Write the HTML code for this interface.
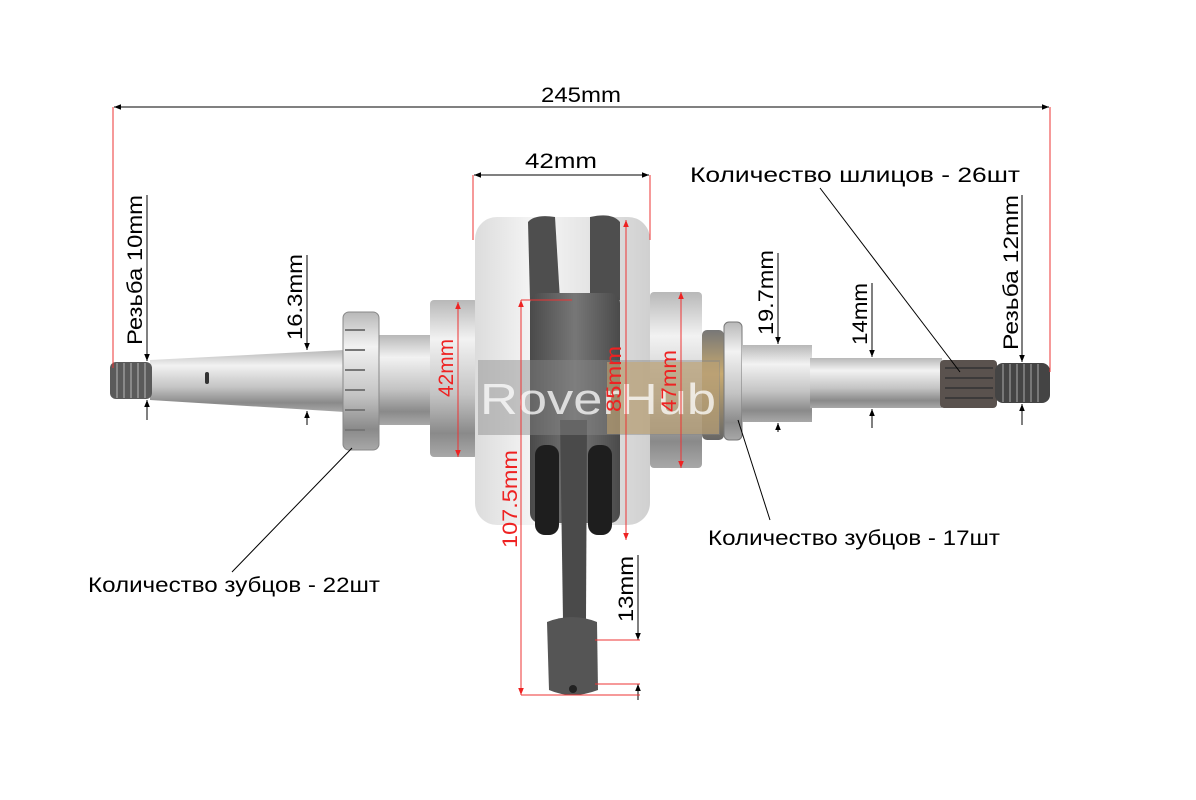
<!DOCTYPE html>
<html><head><meta charset="utf-8"><style>
html,body{margin:0;padding:0;background:#fff;}
svg{display:block;font-family:"Liberation Sans",sans-serif;}
</style></head><body>
<svg width="1196" height="800" viewBox="0 0 1196 800" xmlns="http://www.w3.org/2000/svg">
<defs>
<linearGradient id="steel" x1="0" y1="0" x2="0" y2="1">
<stop offset="0" stop-color="#b8b8b8"/><stop offset="0.25" stop-color="#f2f2f2"/><stop offset="0.6" stop-color="#c4c4c4"/><stop offset="0.85" stop-color="#8a8a8a"/><stop offset="1" stop-color="#a8a8a8"/></linearGradient>
<linearGradient id="light" x1="0" y1="0" x2="1" y2="0">
<stop offset="0" stop-color="#dcdcdc"/><stop offset="0.35" stop-color="#f6f6f6"/><stop offset="1" stop-color="#d0d0d0"/></linearGradient>
<linearGradient id="dark" x1="0" y1="0" x2="1" y2="0">
<stop offset="0" stop-color="#4a4a4a"/><stop offset="0.5" stop-color="#777"/><stop offset="1" stop-color="#4a4a4a"/></linearGradient>
<linearGradient id="brass" x1="0" y1="0" x2="0" y2="1">
<stop offset="0" stop-color="#777"/><stop offset="0.4" stop-color="#c8aa70"/><stop offset="1" stop-color="#666"/></linearGradient>
<marker id="a" viewBox="0 0 10 10" refX="10" refY="5" markerWidth="7" markerHeight="7" orient="auto-start-reverse"><path d="M0,1 L10,5 L0,9 Z" fill="#000"/></marker>
<marker id="r" viewBox="0 0 10 10" refX="10" refY="5" markerWidth="7" markerHeight="7" orient="auto-start-reverse"><path d="M0,1 L10,5 L0,9 Z" fill="#e22"/></marker>
</defs>
<!-- left shaft -->
<polygon points="150,360 345,350 345,412 150,400" fill="url(#steel)"/>
<rect x="110" y="362" width="42" height="37" rx="6" fill="#5a5a5a"/>
<g stroke="#999" stroke-width="1.5">
<line x1="117" y1="363" x2="117" y2="398"/><line x1="124" y1="363" x2="124" y2="398"/><line x1="131" y1="363" x2="131" y2="398"/><line x1="138" y1="363" x2="138" y2="398"/><line x1="145" y1="363" x2="145" y2="398"/></g>
<rect x="205" y="372" width="4" height="12" rx="2" fill="#333"/>
<rect x="375" y="335" width="58" height="90" fill="url(#steel)"/>
<!-- left gear -->
<rect x="343" y="312" width="36" height="138" rx="6" fill="url(#steel)" stroke="#888"/>
<g stroke="#777" stroke-width="2">
<line x1="345" y1="330" x2="365" y2="330"/><line x1="345" y1="350" x2="365" y2="350"/><line x1="345" y1="370" x2="365" y2="370"/><line x1="345" y1="390" x2="365" y2="390"/><line x1="345" y1="410" x2="365" y2="410"/><line x1="345" y1="430" x2="365" y2="430"/></g>
<!-- left bearing -->
<rect x="430" y="300" width="48" height="157" rx="4" fill="url(#steel)"/>
<!-- discs -->
<rect x="475" y="217" width="175" height="308" rx="22" fill="url(#light)"/>
<!-- webs -->
<path d="M528,222 Q535,214 555,217 L560,300 L530,300 Z" fill="#4e4e4e"/>
<path d="M590,217 Q612,212 620,222 L620,300 L590,300 Z" fill="#4e4e4e"/>
<rect x="530" y="293" width="90" height="230" rx="10" fill="url(#dark)"/>
<rect x="535" y="445" width="24" height="90" rx="10" fill="#1e1e1e"/>
<rect x="588" y="445" width="24" height="90" rx="10" fill="#1e1e1e"/>
<!-- conrod -->
<path d="M560,420 L587,420 L586,620 L563,620 Z" fill="#4a4a4a"/>
<path d="M547,622 Q572,612 597,622 L598,690 Q572,700 549,690 Z" fill="#555"/>
<circle cx="573" cy="689" r="4" fill="#222"/>
<!-- right bearing -->
<rect x="650" y="292" width="52" height="176" rx="4" fill="url(#steel)"/>
<!-- right gears -->
<rect x="702" y="330" width="22" height="110" rx="5" fill="url(#brass)"/>
<rect x="724" y="322" width="18" height="118" rx="5" fill="url(#steel)" stroke="#777"/>
<rect x="742" y="345" width="70" height="77" fill="url(#steel)"/>
<rect x="810" y="358" width="132" height="50" fill="url(#steel)"/>
<rect x="940" y="360" width="57" height="48" rx="4" fill="#5a524e"/>
<g stroke="#333" stroke-width="1.5">
<line x1="945" y1="368" x2="993" y2="368"/><line x1="945" y1="378" x2="993" y2="378"/><line x1="945" y1="388" x2="993" y2="388"/><line x1="945" y1="398" x2="993" y2="398"/></g>
<rect x="995" y="363" width="55" height="40" rx="8" fill="#444"/>
<g stroke="#888" stroke-width="1.5">
<line x1="1003" y1="364" x2="1003" y2="402"/><line x1="1010" y1="364" x2="1010" y2="402"/><line x1="1017" y1="364" x2="1017" y2="402"/><line x1="1024" y1="364" x2="1024" y2="402"/><line x1="1031" y1="364" x2="1031" y2="402"/><line x1="1038" y1="364" x2="1038" y2="402"/></g>
<!-- watermark -->
<rect x="478" y="360" width="242" height="75" fill="#888" opacity="0.45"/>
<rect x="607" y="362" width="112" height="72" fill="#c8a870" opacity="0.55"/>
<text x="480" y="414" font-size="44" fill="#fff" opacity="0.75" textLength="236" lengthAdjust="spacingAndGlyphs">RoverHub</text>
<!-- dimension lines -->
<g stroke="#000" stroke-width="1" fill="none">
<line x1="114" y1="107" x2="1049" y2="107" marker-start="url(#a)" marker-end="url(#a)"/>
<line x1="474" y1="175" x2="649" y2="175" marker-start="url(#a)" marker-end="url(#a)"/>
<line x1="147" y1="195" x2="147" y2="361" marker-end="url(#a)"/>
<line x1="147" y1="420" x2="147" y2="400" marker-end="url(#a)"/>
<line x1="307" y1="255" x2="307" y2="350" marker-end="url(#a)"/>
<line x1="307" y1="425" x2="307" y2="411" marker-end="url(#a)"/>
<line x1="778" y1="253" x2="778" y2="344" marker-end="url(#a)"/>
<line x1="778" y1="432" x2="778" y2="423" marker-end="url(#a)"/>
<line x1="872" y1="283" x2="872" y2="357" marker-end="url(#a)"/>
<line x1="872" y1="428" x2="872" y2="409" marker-end="url(#a)"/>
<line x1="1022" y1="195" x2="1022" y2="362" marker-end="url(#a)"/>
<line x1="1022" y1="425" x2="1022" y2="404" marker-end="url(#a)"/>
<line x1="638" y1="555" x2="638" y2="640" marker-end="url(#a)"/>
<line x1="638" y1="700" x2="638" y2="684" marker-end="url(#a)"/>
<line x1="820" y1="188" x2="960" y2="372"/>
<line x1="738" y1="420" x2="770" y2="520"/>
<line x1="352" y1="448" x2="232" y2="572"/>
</g>
<g stroke="#e33" stroke-width="1" fill="none">
<line x1="113" y1="107" x2="113" y2="368"/><line x1="1050" y1="107" x2="1050" y2="372"/>
<line x1="473" y1="175" x2="473" y2="240"/><line x1="650" y1="175" x2="650" y2="240"/>
<line x1="458" y1="302" x2="458" y2="457" marker-start="url(#r)" marker-end="url(#r)"/>
<line x1="521" y1="300" x2="521" y2="695" marker-start="url(#r)" marker-end="url(#r)"/>
<line x1="626" y1="220" x2="626" y2="540" marker-start="url(#r)" marker-end="url(#r)"/>
<line x1="681" y1="292" x2="681" y2="468" marker-start="url(#r)" marker-end="url(#r)"/>
<line x1="521" y1="300" x2="572" y2="300"/>
<line x1="521" y1="695" x2="640" y2="695"/><line x1="595" y1="640" x2="640" y2="640"/><line x1="595" y1="684" x2="640" y2="684"/>
</g>
<g font-size="21">
<text x="541" y="102" textLength="80" lengthAdjust="spacingAndGlyphs">245mm</text>
<text x="525" y="168" textLength="72" lengthAdjust="spacingAndGlyphs">42mm</text>
<text x="690" y="182" textLength="330" lengthAdjust="spacingAndGlyphs">Количество шлицов - 26шт</text>
<text x="708" y="545" textLength="292" lengthAdjust="spacingAndGlyphs">Количество зубцов - 17шт</text>
<text x="88" y="592" textLength="292" lengthAdjust="spacingAndGlyphs">Количество зубцов - 22шт</text>
<text transform="translate(142,345) rotate(-90)" textLength="150" lengthAdjust="spacingAndGlyphs">Резьба 10mm</text>
<text transform="translate(302,340) rotate(-90)" textLength="86" lengthAdjust="spacingAndGlyphs">16.3mm</text>
<text transform="translate(773,335) rotate(-90)" textLength="85" lengthAdjust="spacingAndGlyphs">19.7mm</text>
<text transform="translate(867,345) rotate(-90)" textLength="62" lengthAdjust="spacingAndGlyphs">14mm</text>
<text transform="translate(1018,350) rotate(-90)" textLength="155" lengthAdjust="spacingAndGlyphs">Резьба 12mm</text>
<text transform="translate(633,622) rotate(-90)" textLength="66" lengthAdjust="spacingAndGlyphs">13mm</text>
<text transform="translate(517,548) rotate(-90)" fill="#e22" textLength="98" lengthAdjust="spacingAndGlyphs">107.5mm</text>
<text transform="translate(453,397) rotate(-90)" fill="#e22" textLength="58" lengthAdjust="spacingAndGlyphs">42mm</text>
<text transform="translate(621,412) rotate(-90)" fill="#e22" textLength="66" lengthAdjust="spacingAndGlyphs">85mm</text>
<text transform="translate(676,412) rotate(-90)" fill="#e22" textLength="62" lengthAdjust="spacingAndGlyphs">47mm</text>
</g>
</svg>
</body></html>
